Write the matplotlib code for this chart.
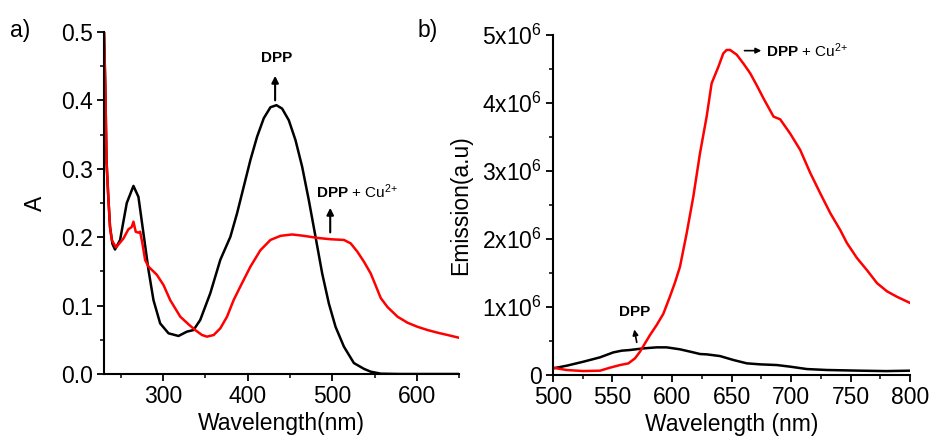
import numpy as np
import matplotlib
matplotlib.use("Agg")
import matplotlib.pyplot as plt
from matplotlib.ticker import MultipleLocator, FuncFormatter

plt.rcParams['font.family'] = ['Liberation Sans', 'DejaVu Sans']
plt.rcParams['mathtext.fontset'] = 'custom'
plt.rcParams['mathtext.rm'] = 'Liberation Sans'
plt.rcParams['mathtext.it'] = 'Liberation Sans:italic'
plt.rcParams['mathtext.bf'] = 'Liberation Sans:bold'

# absorption spectra (A vs nm)
abs_wl_dpp = [230, 231.5, 233, 235, 237.1, 240, 243, 249, 256.9, 264.8, 270.7, 276.6, 282.6,
              288.5, 296.4, 306.3, 318.1, 328, 335.9, 343.8, 355.7, 367.6, 379.5, 387.4,
              395.3, 403.2, 411.1, 419, 426.9, 434, 440.7, 448.6, 456.5, 464.4, 472.3, 480.2,
              488.1, 496, 503.9, 513.8, 525.6, 537.6, 545.5, 557.4, 580, 650]
abs_dpp = [0.50, 0.42, 0.31, 0.26, 0.215, 0.19, 0.182, 0.196, 0.250, 0.275, 0.259, 0.206,
           0.152, 0.108, 0.074, 0.0595, 0.0556, 0.0619, 0.0643, 0.079, 0.118, 0.167, 0.2007,
           0.235, 0.274, 0.313, 0.347, 0.374, 0.390, 0.393, 0.388, 0.371, 0.342, 0.303, 0.254,
           0.2007, 0.147, 0.103, 0.069, 0.040, 0.016, 0.0075, 0.0034, 0.0005, 0.0, 0.0]

abs_wl_cu = [230, 231.5, 233, 235, 237.1, 239.1, 244.2, 252.9, 258.8, 262.8, 264.8, 267.5,
             270.7, 272.7, 275.4, 278.6, 282.6, 292.5, 300.4, 308.3, 320.2, 330, 337.9, 345.9,
             351.8, 359.7, 367.6, 375.5, 383.3, 391.3, 403.2, 415, 426.9, 438.8, 452.5, 466.5,
             482.2, 498.1, 513.8, 521.8, 529.6, 537.6, 545.5, 549.5, 557.4, 565.3, 577.2, 589,
             600.9, 612.7, 624.6, 636.5, 650]
abs_cu = [0.50, 0.42, 0.31, 0.26, 0.215, 0.196, 0.185, 0.198, 0.2115, 0.215, 0.2227, 0.208,
          0.2066, 0.208, 0.191, 0.1667, 0.157, 0.145, 0.130, 0.108, 0.0838, 0.0726, 0.0643,
          0.057, 0.0546, 0.057, 0.0668, 0.0838, 0.108, 0.128, 0.157, 0.181, 0.196, 0.202,
          0.204, 0.202, 0.199, 0.197, 0.196, 0.191, 0.179, 0.164, 0.147, 0.135, 0.111, 0.098,
          0.0838, 0.075, 0.069, 0.0643, 0.0604, 0.057, 0.053]

# emission spectra (units of 1e6)
em_wl_dpp = [500, 511.5, 525.5, 539.5, 550.7, 557.7, 564.7, 575.9, 587.1, 595.5, 606.7,
             617.9, 623.5, 629.1, 640.3, 651.6, 662.8, 674, 688, 699.3, 713.3, 730.1, 758.2,
             780, 800]
em_dpp = [0.098, 0.137, 0.196, 0.26, 0.333, 0.358, 0.368, 0.392, 0.407, 0.407, 0.378, 0.333,
          0.309, 0.304, 0.279, 0.221, 0.172, 0.157, 0.147, 0.123, 0.088, 0.074, 0.064, 0.058,
          0.064]

em_wl_cu = [500, 511.5, 525.5, 539.5, 547.9, 556.3, 563.3, 568.9, 573.1, 577.3, 581.5, 587.1,
            592.7, 598.2, 602.5, 606.7, 612.3, 617.9, 623.5, 629.1, 633.3, 638.9, 643.1, 645.9,
            648.8, 654.4, 660, 665.6, 671.2, 676.8, 685.3, 690.9, 699.3, 707.7, 716.2, 724.6,
            733, 741.4, 747, 755.4, 763.9, 772.3, 780.7, 789.1, 800]
em_cu = [0.108, 0.0735, 0.0588, 0.064, 0.108, 0.147, 0.171, 0.245, 0.343, 0.466, 0.588,
         0.735, 0.90, 1.152, 1.36, 1.593, 2.083, 2.623, 3.26, 3.80, 4.29, 4.53, 4.73, 4.78,
         4.78, 4.71, 4.58, 4.44, 4.26, 4.07, 3.80, 3.76, 3.55, 3.31, 2.97, 2.67, 2.38, 2.13,
         1.94, 1.72, 1.54, 1.35, 1.23, 1.15, 1.06]

fig = plt.figure(figsize=(9.33, 4.47), dpi=100)
ax1 = fig.add_axes([0.1115, 0.1633, 0.3805, 0.7651])
ax2 = fig.add_axes([0.5927, 0.161, 0.3827, 0.7607])

fs = 16.5
for ax in (ax1, ax2):
    for s in ('top', 'right'):
        ax.spines[s].set_visible(False)
    for s in ('left', 'bottom'):
        ax.spines[s].set_linewidth(1.5)
    ax.tick_params(which='major', direction='out', length=5, width=1.3, labelsize=fs, pad=3)
    ax.tick_params(which='minor', direction='out', length=3, width=1.1)

ax1.plot(abs_wl_dpp, abs_dpp, color='black', lw=1.8)
ax1.plot(abs_wl_cu, abs_cu, color='#ff0000', lw=1.8)
ax1.set_xlim(230, 650)
ax1.set_ylim(0, 0.5)
ax1.xaxis.set_major_locator(MultipleLocator(100))
ax1.xaxis.set_minor_locator(MultipleLocator(50))
ax1.yaxis.set_major_locator(MultipleLocator(0.1))
ax1.yaxis.set_minor_locator(MultipleLocator(0.05))
ax1.yaxis.set_major_formatter(FuncFormatter(lambda v, p: f"{v:.1f}"))
ax1.set_xlabel("Wavelength(nm)", fontsize=fs, labelpad=3)
ax1.set_ylabel("A", fontsize=fs, labelpad=10)

cu_label = r"$\mathbf{DPP}$ + Cu$^{2{+}}$"

ax1.annotate("", xy=(432.4, 0.44), xytext=(432.4, 0.396),
             arrowprops=dict(arrowstyle='-|>', color='black', lw=1.5, mutation_scale=10))
ax1.text(434, 0.462, "DPP", fontsize=11, fontweight='bold', ha='center', va='center')
ax1.annotate("", xy=(497.6, 0.247), xytext=(497.6, 0.203),
             arrowprops=dict(arrowstyle='-|>', color='black', lw=1.5, mutation_scale=10))
ax1.text(481, 0.267, cu_label, fontsize=11, ha='left', va='center')

ax2.plot(em_wl_dpp, np.array(em_dpp) * 1e6, color='black', lw=1.8)
ax2.plot(em_wl_cu, np.array(em_cu) * 1e6, color='#ff0000', lw=1.8)
ax2.set_xlim(500, 800)
ax2.set_ylim(0, 5e6)
ax2.xaxis.set_major_locator(MultipleLocator(50))
ax2.xaxis.set_minor_locator(MultipleLocator(25))
ax2.yaxis.set_major_locator(MultipleLocator(1e6))
ax2.yaxis.set_minor_locator(MultipleLocator(5e5))


def sci_fmt(v, p):
    n = int(round(v / 1e6))
    return "0" if n == 0 else rf"{n}x10$^{{6}}$"


ax2.yaxis.set_major_formatter(FuncFormatter(sci_fmt))
ax2.set_xlabel("Wavelength (nm)", fontsize=fs, labelpad=3)
ax2.set_ylabel("Emission(a.u)", fontsize=fs, labelpad=7)

ax2.annotate("", xy=(567.9, 0.71e6), xytext=(570.8, 0.44e6),
             arrowprops=dict(arrowstyle='-|>', color='black', lw=1.2, mutation_scale=8))
ax2.text(568.8, 0.93e6, "DPP", fontsize=11, fontweight='bold', ha='center', va='center')
ax2.annotate("", xy=(677.4, 4.77e6), xytext=(658.6, 4.77e6),
             arrowprops=dict(arrowstyle='-|>', color='black', lw=1.2, mutation_scale=8))
ax2.text(679, 4.77e6, cu_label, fontsize=11, ha='left', va='center')

fig.text(10 / 933, 1 - 30 / 447, "a)", fontsize=fs, va='center')
fig.text(418 / 933, 1 - 30 / 447, "b)", fontsize=fs, va='center')

fig.savefig("out.png", dpi=100)
